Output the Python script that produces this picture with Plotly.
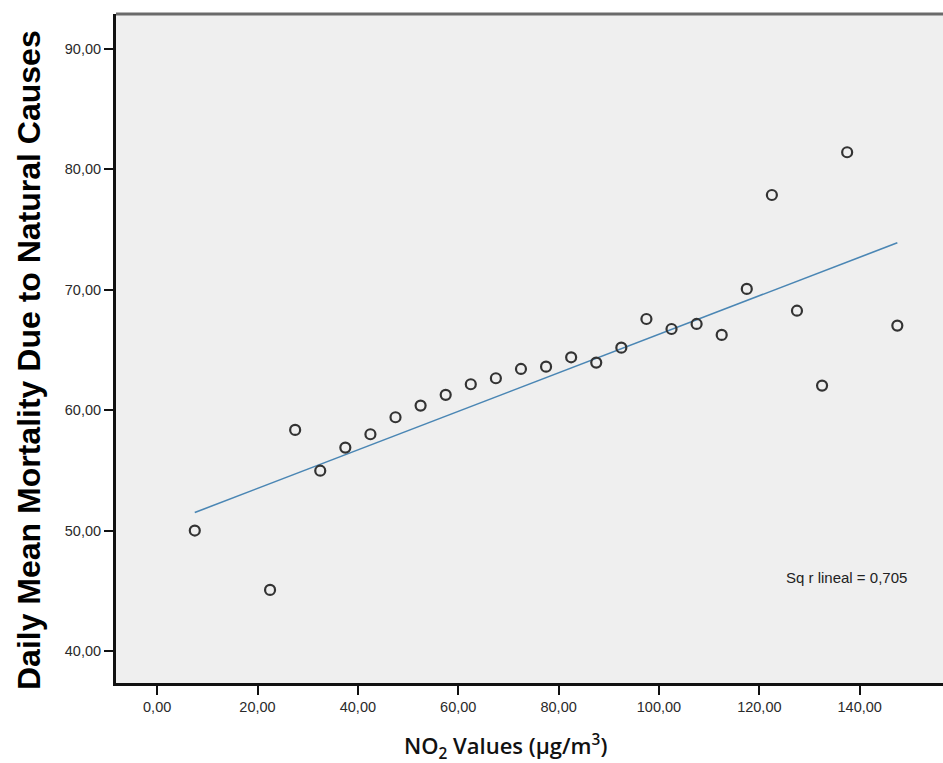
import plotly.graph_objects as go

# Data
no2_values = [7.5, 22.5, 27.5, 32.5, 37.5, 42.5, 47.5, 52.5, 57.5, 62.5, 67.5,
              72.5, 77.5, 82.5, 87.5, 92.5, 97.5, 102.5, 107.5, 112.5, 117.5,
              122.5, 127.5, 132.5, 137.5, 147.5]
mortality = [50.0, 45.07, 58.36, 54.97, 56.89, 58.0, 59.41, 60.38, 61.27, 62.15,
             62.65, 63.42, 63.61, 64.39, 63.95, 65.19, 67.57, 66.74, 67.16, 66.25,
             70.07, 77.87, 68.26, 62.04, 81.42, 67.02]

fit_x = [7.5, 147.5]
fit_y = [51.5, 73.9]

x_tick_vals = [0, 20, 40, 60, 80, 100, 120, 140]
x_tick_text = ["0,00", "20,00", "40,00", "60,00", "80,00", "100,00", "120,00", "140,00"]
y_tick_vals = [40, 50, 60, 70, 80, 90]
y_tick_text = ["40,00", "50,00", "60,00", "70,00", "80,00", "90,00"]

r2_label = "Sq r lineal = 0,705"

W, H = 943, 763
ML, MR, MT, MB = 116, 0, 14, 80
PW, PH = W - ML - MR, H - MT - MB

def px_x(p):
    return (p - ML) / PW

def px_y(p):
    return (H - MB - p) / PH

fig = go.Figure()
fig.add_trace(go.Scatter(
    x=fit_x, y=fit_y, mode="lines",
    line=dict(color="#4a86b4", width=1.6),
    hoverinfo="skip", showlegend=False,
))
fig.add_trace(go.Scatter(
    x=no2_values, y=mortality, mode="markers",
    marker=dict(symbol="circle-open", size=10, color="#333333",
                line=dict(width=2.2, color="#333333")),
    showlegend=False,
))

fig.update_layout(
    width=W, height=H,
    margin=dict(l=ML, r=MR, t=MT, b=MB, pad=0),
    paper_bgcolor="white",
    plot_bgcolor="#efefef",
    font=dict(family="Liberation Sans, Arial, sans-serif", color="#2a2a2a"),
    xaxis=dict(
        range=[-8.2, 156.6], tickvals=x_tick_vals, ticktext=x_tick_text,
        ticks="outside", ticklen=9, tickwidth=2, tickcolor="#111111",
        showgrid=False, zeroline=False,
        showline=True, linecolor="#111111", linewidth=3,
        tickfont=dict(size=14.5, color="#2a2a2a"),
    ),
    yaxis=dict(
        range=[37.34, 92.9], tickvals=y_tick_vals, ticktext=y_tick_text,
        ticks="outside", ticklen=9, tickwidth=2, tickcolor="#111111",
        showgrid=False, zeroline=False,
        showline=True, linecolor="#111111", linewidth=3,
        tickfont=dict(size=14.5, color="#2a2a2a"),
    ),
    shapes=[dict(type="line", xref="paper", yref="paper", x0=0, x1=1, y0=1, y1=1,
                 line=dict(color="#6a6a6a", width=3))],
    annotations=[
        dict(text=r2_label, xref="paper", yref="paper",
             x=px_x(846), y=px_y(577), xanchor="center", yanchor="middle",
             showarrow=False, font=dict(size=15, color="#222222")),
        dict(text="Daily Mean Mortality Due to Natural Causes", xref="paper", yref="paper",
             x=px_x(29), y=px_y(360), xanchor="center", yanchor="middle", textangle=-90,
             showarrow=False,
             font=dict(size=32, color="#000000", family="Liberation Sans, Arial, sans-serif",
                       weight="bold")),
        dict(text="NO<sub>2</sub> Values (µg/m<sup>3</sup>)", xref="paper", yref="paper",
             x=px_x(505), y=px_y(746), xanchor="center", yanchor="middle",
             showarrow=False,
             font=dict(size=22, color="#111111", family="Open Sans, sans-serif", weight=600)),
    ],
)

fig.write_html("out.html", config={"displayModeBar": False},
               post_script="document.body.style.margin='0px';document.body.style.overflow='hidden';")
